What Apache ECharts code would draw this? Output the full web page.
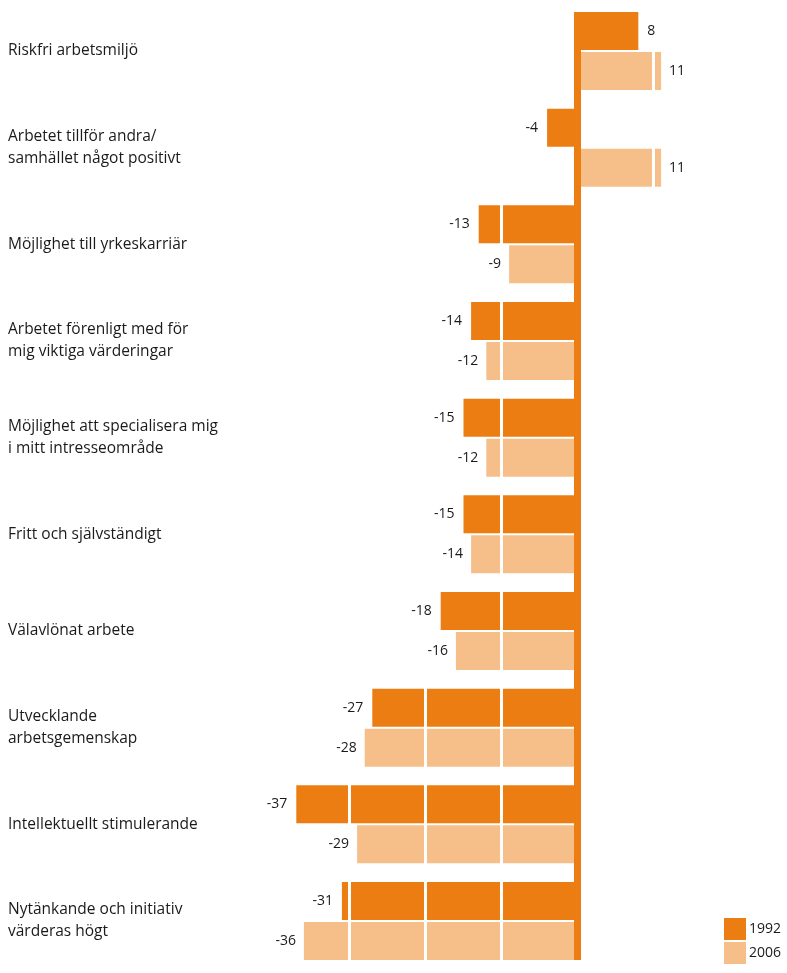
<!DOCTYPE html>
<html><head><meta charset="utf-8">
<script src="https://cdn.jsdelivr.net/npm/echarts@6/dist/echarts.min.js"></script>
<style>html,body{margin:0;padding:0;background:#fff}#c{width:787px;height:973px}</style>
</head><body><div id="c"></div>
<script>
const categories = [
  'Riskfri arbetsmiljö',
  'Arbetet tillför andra/\nsamhället något positivt',
  'Möjlighet till yrkeskarriär',
  'Arbetet förenligt med för\nmig viktiga värderingar',
  'Möjlighet att specialisera mig\ni mitt intresseområde',
  'Fritt och självständigt',
  'Välavlönat arbete',
  'Utvecklande\narbetsgemenskap',
  'Intellektuellt stimulerande',
  'Nytänkande och initiativ\nvärderas högt'
];
const values1992 = [8, -4, -13, -14, -15, -15, -18, -27, -37, -31];
const values2006 = [11, 11, -9, -12, -12, -14, -16, -28, -29, -36];
const seriesNames = ['1992', '2006'];

const FONT = '"Open Sans", sans-serif';
const C1 = '#EC7D13';
const C2 = '#F6BF89';
const TXT = '#1a1a1a';

function labelled(vals) {
  return vals.map(v => ({ value: v, label: { position: v < 0 ? 'left' : 'right' } }));
}

const gridBox = { left: 273.5, width: 456, top: 2.7, height: 966.6, containLabel: false, outerBoundsMode: 'none' };
const lineGrid = { left: 273.5, width: 456, top: 12, height: 948, containLabel: false, outerBoundsMode: 'none' };
const xBase = { type: 'value', min: -40, max: 20, interval: 10,
  axisLine: { show: false }, axisTick: { show: false }, axisLabel: { show: false } };

const chart = echarts.init(document.getElementById('c'));
chart.setOption({
  animation: false,
  backgroundColor: '#fff',
  grid: [Object.assign({}, gridBox), Object.assign({}, gridBox), lineGrid],
  legend: {
    orient: 'vertical', left: 719, top: 913,
    itemWidth: 22, itemHeight: 22, itemGap: 2,
    icon: 'rect',
    textStyle: { fontFamily: FONT, fontSize: 14, color: TXT, padding: [0, 0, 0, -2] },
    data: seriesNames
  },
  xAxis: [
    Object.assign({ gridIndex: 0, z: 4, splitLine: { show: true, lineStyle: { color: '#fff', width: 3 } } }, xBase),
    Object.assign({ gridIndex: 1, splitLine: { show: false } }, xBase),
    Object.assign({ gridIndex: 2, splitLine: { show: false } }, xBase)
  ],
  yAxis: [
    {
      gridIndex: 0, type: 'category', data: categories, inverse: true,
      axisLine: { show: false },
      axisTick: { show: false },
      axisLabel: {
        align: 'left', margin: 265.5, fontFamily: FONT, fontSize: 15.5,
        color: TXT, lineHeight: 22
      }
    },
    {
      gridIndex: 1, type: 'category', data: categories, inverse: true,
      axisLine: { show: false }, axisTick: { show: false }, axisLabel: { show: false }
    },
    {
      gridIndex: 2, type: 'category', data: categories, inverse: true, z: 6,
      axisLine: { show: true, onZero: true, lineStyle: { color: C1, width: 7, cap: 'butt' } },
      axisTick: { show: false }, axisLabel: { show: false }
    }
  ],
  series: [
    {
      name: seriesNames[0], type: 'bar', data: values1992, xAxisIndex: 0, yAxisIndex: 0,
      barWidth: 38, barGap: '5.3%', itemStyle: { color: C1 }, label: { show: false }
    },
    {
      name: seriesNames[1], type: 'bar', data: values2006, xAxisIndex: 0, yAxisIndex: 0,
      barWidth: 38, itemStyle: { color: C2 }, label: { show: false }
    },
    {
      name: seriesNames[0] + ' etikett', type: 'bar', data: labelled(values1992), xAxisIndex: 1, yAxisIndex: 1,
      z: 10, barWidth: 38, barGap: '5.3%', itemStyle: { color: 'rgba(0,0,0,0)' }, silent: true,
      label: { show: true, distance: 9, fontFamily: FONT, fontSize: 14, color: TXT }
    },
    {
      name: seriesNames[1] + ' etikett', type: 'bar', data: labelled(values2006), xAxisIndex: 1, yAxisIndex: 1,
      z: 10, barWidth: 38, itemStyle: { color: 'rgba(0,0,0,0)' }, silent: true,
      label: { show: true, distance: 8, fontFamily: FONT, fontSize: 14, color: TXT }
    }
  ]
});
</script></body></html>
